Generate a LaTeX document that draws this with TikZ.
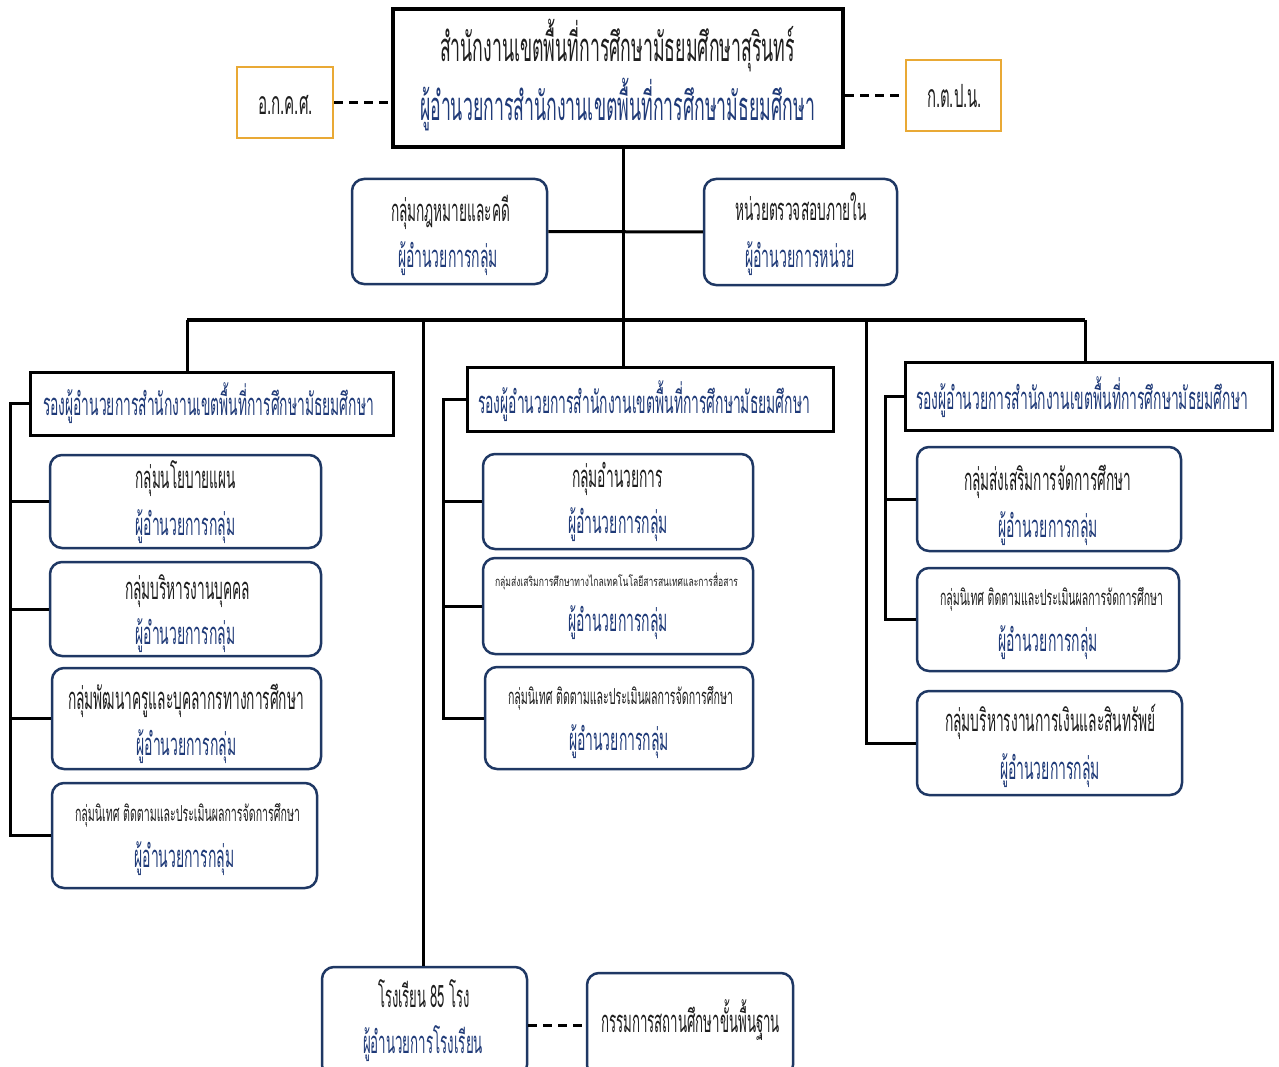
\documentclass[tikz,border=0pt]{standalone}
\usepackage{fontspec}
\newfontfamily\thaifont[Script=Thai]{Loma}
\usepackage{graphicx}
\definecolor{navy}{HTML}{1F3864}
\definecolor{txtblue}{HTML}{1F3A78}
\definecolor{txtdark}{HTML}{1E1E1E}
\definecolor{gold}{HTML}{E9A935}
\newcommand\tline[3]{\resizebox{#1pt}{\height}{\fontsize{#2}{#2}\thaifont\selectfont #3}}
\begin{document}
\begin{tikzpicture}[x=1pt,y=-1pt,
 gbox/.style={draw=navy, line width=2.5pt, rounded corners=12pt, fill=white, inner sep=0pt},
 dbox/.style={draw=black, line width=3pt, fill=white, inner sep=0pt},
 obox/.style={draw=gold, line width=2.5pt, fill=white, inner sep=0pt},
 tbox/.style={draw=black, line width=4pt, fill=white, inner sep=0pt},
 lbl/.style={anchor=base, inner sep=0pt},
 conn/.style={line width=3pt, black},
 barline/.style={line width=4.5pt, black},
 brk/.style={line width=3pt, black},
 dsh/.style={line width=3pt, black, dash pattern=on 9pt off 6pt}]
\useasboundingbox (0,0) rectangle (1279,1067);
\fill[white] (0,0) rectangle (1279,1067);
\clip (0,0) rectangle (1279,1067);

% ---------- boxes ----------
\node[tbox, minimum width=450pt, minimum height=138pt] (top) at (618,78) {};
\node[obox, minimum width=96pt, minimum height=71pt] (okks) at (285,102.5) {};
\node[obox, minimum width=95pt, minimum height=71pt] (ktpn) at (953.5,95.5) {};
\node[gbox, minimum width=195pt, minimum height=105pt] (legal) at (449.5,231.5) {};
\node[gbox, minimum width=193pt, minimum height=106pt] (audit) at (800.5,232) {};

\node[dbox, minimum width=363pt, minimum height=63pt] (ldep) at (211.5,403.5) {};
\node[dbox, minimum width=366pt, minimum height=64pt] (mdep) at (650,399) {};
\node[dbox, minimum width=367pt, minimum height=68pt] (rdep) at (1088.5,396) {};

\node[gbox, minimum width=271pt, minimum height=93pt] (L1) at (185.5,501.5) {};
\node[gbox, minimum width=271pt, minimum height=94pt] (L2) at (185.5,609) {};
\node[gbox, minimum width=269pt, minimum height=101pt] (L3) at (186.5,718.5) {};
\node[gbox, minimum width=265pt, minimum height=105pt] (L4) at (184.5,835.5) {};

\node[gbox, minimum width=270pt, minimum height=95pt] (M1) at (618,501.5) {};
\node[gbox, minimum width=270pt, minimum height=96pt] (M2) at (618,606) {};
\node[gbox, minimum width=268pt, minimum height=102pt] (M3) at (619,718) {};

\node[gbox, minimum width=264pt, minimum height=104pt] (R1) at (1049,499) {};
\node[gbox, minimum width=262pt, minimum height=103pt] (R2) at (1048,619.5) {};
\node[gbox, minimum width=265pt, minimum height=104pt] (R3) at (1049.5,743) {};

\node[gbox, minimum width=205pt, minimum height=110pt] (school) at (424.5,1022) {};
\node[gbox, minimum width=206pt, minimum height=104pt] (comm) at (690,1025) {};

% ---------- texts ----------
\node[lbl] (topa) at (617.5,62) {\tline{355}{40}{\color{txtdark}สำนักงานเขตพื้นที่การศึกษามัธยมศึกษาสุรินทร์}};
\node[lbl] (topb) at (617.5,121) {\tline{395}{40}{\color{txtblue}ผู้อำนวยการสำนักงานเขตพื้นที่การศึกษามัธยมศึกษา}};
\node[lbl] (okksa) at (285.5,115) {\tline{55}{32}{\color{txtdark}อ.ก.ค.ศ.}};
\node[lbl] (ktpna) at (954.5,108) {\tline{55}{32}{\color{txtdark}ก.ต.ป.น.}};

\node[lbl] (legala) at (450.5,222) {\tline{119}{31}{\color{txtdark}กลุ่มกฎหมายและคดี}};
\node[lbl] (legalb) at (448,268) {\tline{100}{31}{\color{txtblue}ผู้อำนวยการกลุ่ม}};
\node[lbl] (audita) at (801,221) {\tline{132}{31}{\color{txtdark}หน่วยตรวจสอบภายใน}};
\node[lbl] (auditb) at (800,268) {\tline{110}{31}{\color{txtblue}ผู้อำนวยการหน่วย}};

\node[lbl] (ldepa) at (208.5,415) {\tline{331}{31}{\color{txtblue}รองผู้อำนวยการสำนักงานเขตพื้นที่การศึกษามัธยมศึกษา}};
\node[lbl] (mdepa) at (644,413) {\tline{332}{31}{\color{txtblue}รองผู้อำนวยการสำนักงานเขตพื้นที่การศึกษามัธยมศึกษา}};
\node[lbl] (rdepa) at (1082,409) {\tline{332}{31}{\color{txtblue}รองผู้อำนวยการสำนักงานเขตพื้นที่การศึกษามัธยมศึกษา}};

\node[lbl] (L1a) at (185.5,488) {\tline{100}{31}{\color{txtdark}กลุ่มนโยบายแผน}};
\node[lbl] (L1b) at (185.5,535) {\tline{100}{31}{\color{txtblue}ผู้อำนวยการกลุ่ม}};
\node[lbl] (L2a) at (187.5,599) {\tline{125}{31}{\color{txtdark}กลุ่มบริหารงานบุคคล}};
\node[lbl] (L2b) at (185.5,644) {\tline{100}{31}{\color{txtblue}ผู้อำนวยการกลุ่ม}};
\node[lbl] (L3a) at (186,709) {\tline{236}{31}{\color{txtdark}กลุ่มพัฒนาครูและบุคลากรทางการศึกษา}};
\node[lbl] (L3b) at (186.5,755) {\tline{100}{31}{\color{txtblue}ผู้อำนวยการกลุ่ม}};
\node[lbl] (L4a) at (187.5,821) {\tline{225}{22}{\color{txtdark}กลุ่มนิเทศ ติดตามและประเมินผลการจัดการศึกษา}};
\node[lbl] (L4b) at (184.5,867) {\tline{100}{31}{\color{txtblue}ผู้อำนวยการกลุ่ม}};

\node[lbl] (M1a) at (617.5,487) {\tline{91}{31}{\color{txtdark}กลุ่มอำนวยการ}};
\node[lbl] (M1b) at (618,533) {\tline{100}{31}{\color{txtblue}ผู้อำนวยการกลุ่ม}};
\node[lbl] (M2a) at (616.5,586) {\tline{243}{13}{\color{txtdark}กลุ่มส่งเสริมการศึกษาทางไกลเทคโนโลยีสารสนเทศและการสื่อสาร}};
\node[lbl] (M2b) at (618,631) {\tline{100}{31}{\color{txtblue}ผู้อำนวยการกลุ่ม}};
\node[lbl] (M3a) at (620.5,704) {\tline{225}{22}{\color{txtdark}กลุ่มนิเทศ ติดตามและประเมินผลการจัดการศึกษา}};
\node[lbl] (M3b) at (619,750) {\tline{100}{31}{\color{txtblue}ผู้อำนวยการกลุ่ม}};

\node[lbl] (R1a) at (1047.5,490) {\tline{167}{31}{\color{txtdark}กลุ่มส่งเสริมการจัดการศึกษา}};
\node[lbl] (R1b) at (1048,537) {\tline{100}{31}{\color{txtblue}ผู้อำนวยการกลุ่ม}};
\node[lbl] (R2a) at (1051.5,605) {\tline{223}{22}{\color{txtdark}กลุ่มนิเทศ ติดตามและประเมินผลการจัดการศึกษา}};
\node[lbl] (R2b) at (1048,651) {\tline{100}{31}{\color{txtblue}ผู้อำนวยการกลุ่ม}};
\node[lbl] (R3a) at (1050.5,731) {\tline{211}{31}{\color{txtdark}กลุ่มบริหารงานการเงินและสินทรัพย์}};
\node[lbl] (R3b) at (1050,779) {\tline{100}{31}{\color{txtblue}ผู้อำนวยการกลุ่ม}};

\node[lbl] (schoola) at (424,1007) {\tline{92}{31}{\color{txtdark}โรงเรียน 85 โรง}};
\node[lbl] (schoolb) at (423,1053) {\tline{120}{31}{\color{txtblue}ผู้อำนวยการโรงเรียน}};
\node[lbl] (comma) at (690.5,1032) {\tline{179}{31}{\color{txtdark}กรรมการสถานศึกษาขั้นพื้นฐาน}};

% ---------- connectors ----------
\coordinate (trunk) at (623,320);
\coordinate (barL) at (187,320);
\coordinate (barR) at (1085,320);
\coordinate (barS) at (423,320);
\coordinate (barF) at (866,320);
\coordinate (lx) at (10,0);
\coordinate (mx) at (443,0);
\coordinate (rx) at (885,0);

\draw[conn] (top.south -| trunk) -- (mdep.north -| trunk);
\draw[conn] (legal.east) -- (audit.west);
\draw[barline] (barL) -- (barR);
\draw[conn] (barL) -- (ldep.north -| barL);
\draw[conn] (barR) -- (rdep.north -| barR);
\draw[conn] (barS) -- (school.north -| barS);
\draw[conn] (barF) -- (R3.west -| barF) -- (R3.west);

\draw[brk] (ldep.west) -- (ldep.west -| lx) -- (L4.west -| lx) -- (L4.west);
\draw[brk] (L1.west -| lx) -- (L1.west);
\draw[brk] (L2.west -| lx) -- (L2.west);
\draw[brk] (L3.west -| lx) -- (L3.west);

\draw[brk] (mdep.west) -- (mdep.west -| mx) -- (M3.west -| mx) -- (M3.west);
\draw[brk] (M1.west -| mx) -- (M1.west);
\draw[brk] (M2.west -| mx) -- (M2.west);

\draw[brk] (rdep.west) -- (rdep.west -| rx) -- (R2.west -| rx) -- (R2.west);
\draw[brk] (R1.west -| rx) -- (R1.west);

\draw[dsh] (okks.east) -- (okks.east -| top.west);
\draw[dsh] (ktpn.west -| top.east) -- (ktpn.west);
\draw[dsh] (school.east |- comm.west) -- (comm.west);
\end{tikzpicture}
\end{document}
